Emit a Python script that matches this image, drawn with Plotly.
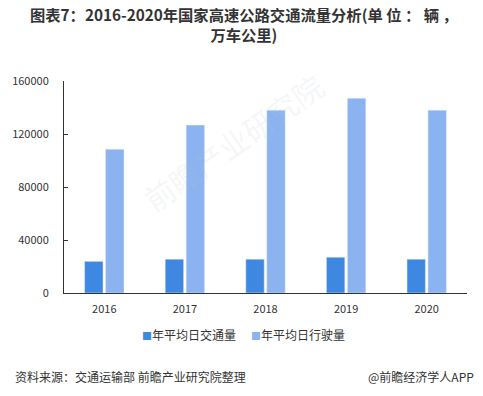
import plotly.graph_objects as go

years = ["2016", "2017", "2018", "2019", "2020"]
traffic_volume = [23900, 25500, 25500, 27000, 25500]
mileage = [108500, 126700, 138000, 147000, 138000]
series_names = ["年平均日交通量", "年平均日行驶量"]
series_colors = ["#3F88E2", "#8BB3EF"]
y_ticks = [0, 40000, 80000, 120000, 160000]

font_cjk = "Noto Sans CJK SC, Microsoft YaHei, sans-serif"
txt = "#333333"

fig = go.Figure()
for name, vals, col in zip(series_names, [traffic_volume, mileage], series_colors):
    fig.add_trace(go.Bar(x=years, y=vals, name=name, marker_color=col))

fig.update_layout(
    width=483, height=396,
    margin=dict(l=60, r=16, t=81, b=103),
    paper_bgcolor="white", plot_bgcolor="white",
    barmode="group", bargap=0.48, bargroupgap=0.12,
    font=dict(family=font_cjk, size=11, color=txt),
    showlegend=False,
    xaxis=dict(showline=True, linecolor=txt, linewidth=1, ticks="", showgrid=False,
               ticklabelstandoff=6, tickfont=dict(size=11, color=txt)),
    yaxis=dict(range=[0, 160000], tickvals=y_ticks, showline=True, linecolor=txt, linewidth=1,
               ticks="inside", ticklen=4, tickcolor=txt, showgrid=False, zeroline=False,
               ticklabelstandoff=12, tickformat="d", tickfont=dict(size=11, color=txt)),
)

# faint watermark
fig.add_annotation(text="前瞻产业研究院", xref="paper", yref="paper", x=0.42, y=0.33,
                   showarrow=False, textangle=-35,
                   font=dict(size=30, color="rgba(190,198,210,0.16)", family=font_cjk))

# title
fig.add_annotation(text="<b>图表7：2016-2020年国家高速公路交通流量分析(单 位 ： 辆 ，<br>万车公里)</b>",
                   xref="paper", yref="paper", x=(242 - 60) / 407, xanchor="center", y=1.27,
                   yanchor="middle", showarrow=False, align="center",
                   font=dict(size=15.3, color=txt, family=font_cjk))

# legend (manual, compact like the reference)
legend_x = [(137 - 60) / 407, (247 - 60) / 407]
for name, col, lx in zip(series_names, series_colors, legend_x):
    fig.add_annotation(text=f"<span style='color:{col};font-size:10px'>■</span>{name}",
                       xref="paper", yref="paper",
                       x=lx, xanchor="left", y=-0.198, yanchor="middle", showarrow=False,
                       font=dict(size=12, color=txt))

fig.add_annotation(text="资料来源：交通运输部 前瞻产业研究院整理", xref="paper", yref="paper",
                   x=(8 - 60) / 407, xanchor="left", y=-0.392, yanchor="middle", showarrow=False,
                   font=dict(size=12, color=txt))
fig.add_annotation(text="@前瞻经济学人APP", xref="paper", yref="paper",
                   x=(476 - 60) / 407, xanchor="right", y=-0.392, yanchor="middle", showarrow=False,
                   font=dict(size=12, color=txt))

fig.write_html("out.html", config={"displayModeBar": False},
               post_script="document.body.style.margin='0';")
